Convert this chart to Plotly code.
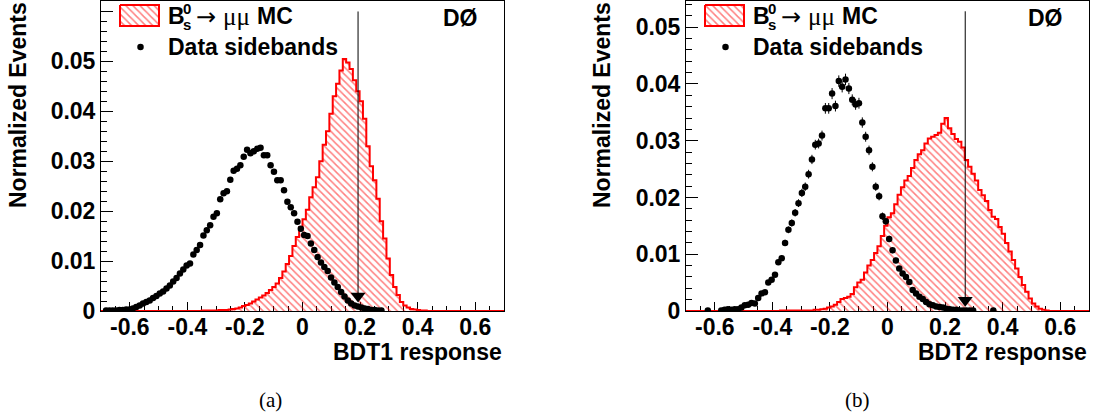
import numpy as np
import plotly.graph_objects as go

# ---------------- data ----------------
NBINS = 120
XMIN, XMAX = -0.7, 0.7
bin_edges = np.linspace(XMIN, XMAX, NBINS + 1)
bin_centers = 0.5 * (bin_edges[:-1] + bin_edges[1:])

# BDT1: MC signal histogram (bins 30..96, zero elsewhere)
mc1_first = 30
mc1_vals = [0.0001, 0.0001, 0.0001, 0.0001, 0.0001,
            0.0002, 0.0002, 0.0002, 0.0003, 0.0004, 0.0005, 0.0007, 0.0010, 0.0012, 0.0015,
            0.0019, 0.0023, 0.0027, 0.0031, 0.0036, 0.0042, 0.0048, 0.0055, 0.0066, 0.0079,
            0.0094, 0.0110, 0.0130, 0.0148, 0.0168, 0.0184, 0.0203, 0.0228, 0.0248, 0.0268,
            0.0300, 0.0333, 0.0360, 0.0395, 0.0430, 0.0455, 0.0482, 0.0505, 0.0498, 0.0485,
            0.0462, 0.0440, 0.0420, 0.0385, 0.0330, 0.0290, 0.0262, 0.0225, 0.0180, 0.0145,
            0.0105, 0.0072, 0.0048, 0.0032, 0.0018, 0.0011, 0.0007, 0.0004, 0.0003, 0.0002,
            0.0001, 0.0001]

# BDT1: data sidebands (bins 1..83)
data1_first = 1
data1_vals = [0.0001, 0.0001, 0.0001, 0.0001, 0.0002, 0.0002, 0.0003, 0.0003, 0.0005, 0.0008,
              0.0011, 0.0015, 0.0018, 0.0021, 0.0026, 0.0030, 0.0035, 0.0039, 0.0045, 0.0051,
              0.0059, 0.0066, 0.0075, 0.0083, 0.0091, 0.0095, 0.0113, 0.0122, 0.0132, 0.0151,
              0.0162, 0.0172, 0.0189, 0.0196, 0.0224, 0.0236, 0.0240, 0.0263, 0.0281, 0.0285,
              0.0292, 0.0309, 0.0323, 0.0316, 0.0320, 0.0325, 0.0327, 0.0312, 0.0312, 0.0292,
              0.0279, 0.0262, 0.0262, 0.0242, 0.0219, 0.0208, 0.0196, 0.0179, 0.0165, 0.0152,
              0.0150, 0.0135, 0.0122, 0.0108, 0.0097, 0.0088, 0.0080, 0.0067, 0.0057, 0.0048,
              0.0038, 0.0029, 0.0021, 0.0015, 0.0011, 0.0009, 0.0007, 0.0005, 0.0004, 0.0002,
              0.0002, 0.0001, 0.0001]

# BDT2: MC signal histogram (bins 28..107)
mc2_first = 28
mc2_vals = [0.0001, 0.0001, 0.0001, 0.0001, 0.0001, 0.0001, 0.0001, 0.0001,
            0.0001, 0.0001, 0.0002, 0.0002, 0.0003, 0.0004, 0.0006, 0.0008, 0.0011, 0.0016,
            0.0021, 0.0023, 0.0025, 0.0030, 0.0042, 0.0050, 0.0055, 0.0068, 0.0080, 0.0090,
            0.0102, 0.0114, 0.0132, 0.0150, 0.0165, 0.0172, 0.0188, 0.0205, 0.0218, 0.0230,
            0.0238, 0.0252, 0.0266, 0.0276, 0.0283, 0.0295, 0.0304, 0.0307, 0.0310, 0.0314,
            0.0330, 0.0340, 0.0322, 0.0312, 0.0303, 0.0298, 0.0288, 0.0266, 0.0254, 0.0242,
            0.0230, 0.0213, 0.0204, 0.0194, 0.0178, 0.0166, 0.0162, 0.0148, 0.0136, 0.0120,
            0.0105, 0.0090, 0.0075, 0.0060, 0.0046, 0.0034, 0.0022, 0.0013, 0.0008, 0.0004,
            0.0002, 0.0001]

# BDT2: data sidebands (bins 6..91, None = empty bin)
data2_first = 6
data2_vals = [0.0001, None, None, None,
              0.0001, 0.0002, 0.0003, 0.0002, 0.0003, 0.0003, 0.0006, 0.0010, 0.0011, 0.0014,
              0.0013, 0.0023, 0.0031, 0.0033, 0.0050, 0.0055, 0.0064, 0.0086, 0.0093, 0.0120,
              0.0143, 0.0155, 0.0173, 0.0190, 0.0208, 0.0219, 0.0241, 0.0267, 0.0293, 0.0295,
              0.0309, 0.0357, 0.0357, 0.0383, 0.0361, 0.0405, 0.0395, 0.0408, 0.0392, 0.0372,
              0.0364, 0.0366, 0.0332, 0.0307, 0.0283, 0.0254, 0.0219, 0.0202, 0.0167, 0.0158,
              0.0127, 0.0107, 0.0089, 0.0075, 0.0066, 0.0060, 0.0051, 0.0037, 0.0031, 0.0025,
              0.0021, 0.0016, 0.0012, 0.0010, 0.0008, 0.0007, 0.0006, 0.0004, 0.0003, 0.0002,
              0.0002, 0.0001, 0.0001, 0.0001, 0.0001, 0.0001, None, None, None, None, None,
              0.0001]

# statistical error scale (error = k*sqrt(value)) for each data sample
err_scale1 = 0.002
err_scale2 = 0.005

# selection cuts (arrows)
cut1, cut1_top, cut1_head = 0.193, 0.060, 0.0030
cut2, cut2_top, cut2_head = 0.270, 0.0528, 0.0019

x_tick_vals = [-0.6, -0.4, -0.2, 0.0, 0.2, 0.4, 0.6]
x_tick_text = ["-0.6", "-0.4", "-0.2", "0", "0.2", "0.4", "0.6"]
y1_tick_vals = [0, 0.01, 0.02, 0.03, 0.04, 0.05, 0.06]
y1_tick_text = ["0", "0.01", "0.02", "0.03", "0.04", "0.05", "0.06"]
y2_tick_vals = [0, 0.01, 0.02, 0.03, 0.04, 0.05]
y2_tick_text = ["0", "0.01", "0.02", "0.03", "0.04", "0.05"]
y1_range = [0, 0.0622]
y2_range = [0, 0.0547]
x_titles = ["BDT1 response", "BDT2 response"]
captions = ["(a)", "(b)"]


def full_hist(first, vals):
    arr = [0.0] * NBINS
    for k, v in enumerate(vals):
        arr[first + k] = v
    return arr


def full_points(first, vals):
    arr = [None] * NBINS
    for k, v in enumerate(vals):
        arr[first + k] = v
    return arr


mc1 = full_hist(mc1_first, mc1_vals)
mc2 = full_hist(mc2_first, mc2_vals)
data1 = full_points(data1_first, data1_vals)
data2 = full_points(data2_first, data2_vals)

# ---------------- figure ----------------
W, H = 1095, 417
FONT = "Liberation Sans"
RED = "#ff0000"
FS = 23


def px(x):
    return x / W


def py(y):
    return 1 - y / H


fig = go.Figure()

panels = [
    dict(xa="x", ya="y", mc=mc1, data=data1, k=err_scale1,
         cut=(cut1, cut1_top, cut1_head)),
    dict(xa="x2", ya="y2", mc=mc2, data=data2, k=err_scale2,
         cut=(cut2, cut2_top, cut2_head)),
]

PATTERN = dict(shape="\\", fgcolor=RED, bgcolor="rgba(255,255,255,0)", size=5, solidity=0.3)

for p in panels:
    step_x = list(bin_edges)
    step_y = list(p["mc"]) + [p["mc"][-1]]
    fig.add_trace(go.Scatter(
        x=step_x, y=step_y, mode="lines", line=dict(color=RED, width=2, shape="hv"),
        fill="tozeroy", fillcolor="rgba(0,0,0,0)", fillpattern=PATTERN,
        xaxis=p["xa"], yaxis=p["ya"], showlegend=False, hoverinfo="skip"))
    xs = [c for c, v in zip(bin_centers, p["data"]) if v is not None]
    ys = [v for v in p["data"] if v is not None]
    errs = [p["k"] * np.sqrt(v) for v in ys]
    fig.add_trace(go.Scatter(
        x=xs, y=ys, mode="markers",
        marker=dict(color="black", size=6.5, symbol="circle"),
        error_y=dict(type="data", array=errs, visible=True, color="black",
                     thickness=1, width=0),
        xaxis=p["xa"], yaxis=p["ya"], showlegend=False))
    c, top, head = p["cut"]
    fig.add_trace(go.Scatter(
        x=[c, c], y=[top, head], mode="lines", line=dict(color="black", width=1),
        xaxis=p["xa"], yaxis=p["ya"], showlegend=False, hoverinfo="skip"))
    fig.add_trace(go.Scatter(
        x=[c], y=[head], mode="markers",
        marker=dict(color="black", size=13, symbol="triangle-down"),
        xaxis=p["xa"], yaxis=p["ya"], showlegend=False, hoverinfo="skip"))

# legend swatches drawn on an overlay pixel axis
for ox in [0, 585]:
    bx0, bx1, by0, by1 = 120 + ox, 159 + ox, 5, 26
    fig.add_trace(go.Scatter(
        x=[bx0, bx1, bx1, bx0, bx0], y=[by0, by0, by1, by1, by0],
        mode="lines", line=dict(color=RED, width=2), fill="toself",
        fillcolor="rgba(0,0,0,0)", fillpattern=PATTERN,
        xaxis="x3", yaxis="y3", showlegend=False, hoverinfo="skip"))
    fig.add_trace(go.Scatter(
        x=[140.5 + ox], y=[47], mode="markers",
        marker=dict(color="black", size=6.5),
        xaxis="x3", yaxis="y3", showlegend=False, hoverinfo="skip"))

tickfont = dict(family=FONT, size=FS, color="black", weight="bold")


def xaxis_def(domain, anchor):
    return dict(domain=domain, anchor=anchor, range=[XMIN, XMAX], automargin=False,
                showline=True, mirror=True, linecolor="black", linewidth=1,
                ticks="inside", ticklen=9, tickcolor="black", ticklabelstandoff=-5,
                tickmode="array", tickvals=x_tick_vals, ticktext=x_tick_text,
                minor=dict(ticks="inside", ticklen=5, tick0=0, dtick=0.05, tickcolor="black"),
                showgrid=False, zeroline=False, tickfont=tickfont, layer="below traces")


def yaxis_def(domain, anchor, rng, vals, text):
    return dict(domain=domain, anchor=anchor, range=rng, automargin=False,
                showline=True, mirror=True, linecolor="black", linewidth=1,
                ticks="inside", ticklen=12, tickcolor="black",
                tickmode="array", tickvals=vals, ticktext=text,
                minor=dict(ticks="inside", ticklen=6, tick0=0, dtick=0.002, tickcolor="black"),
                showgrid=False, zeroline=False, tickfont=tickfont, layer="below traces")


ydom = [py(311), py(0.5)]
fig.update_layout(
    width=W, height=H, margin=dict(l=0, r=0, t=0, b=0),
    paper_bgcolor="white", plot_bgcolor="rgba(0,0,0,0)",
    font=dict(family=FONT, color="black"),
    xaxis=xaxis_def([px(101), px(504)], "y"),
    yaxis=yaxis_def(ydom, "x", y1_range, y1_tick_vals, y1_tick_text),
    xaxis2=xaxis_def([px(686), px(1089)], "y2"),
    yaxis2=yaxis_def(ydom, "x2", y2_range, y2_tick_vals, y2_tick_text),
    xaxis3=dict(domain=[0, 1], anchor="y3", range=[0, W], visible=False, fixedrange=True),
    yaxis3=dict(domain=[0, 1], anchor="x3", range=[H, 0], visible=False, fixedrange=True),
)

ann = []
bold = dict(family=FONT, size=FS, color="black", weight="bold")
small_bold = dict(family=FONT, size=15, color="black", weight="bold")
for ox, right, ycx, title, cap, capx in [(0, 504, 18, x_titles[0], captions[0], 270),
                                           (585, 1089, 602, x_titles[1], captions[1], 857)]:
    ann.append(dict(text=title, x=px(right), y=py(352), xref="paper", yref="paper",
                    xanchor="right", yanchor="middle", showarrow=False, font=bold))
    ann.append(dict(text="Normalized Events", x=px(ycx), y=py(0), xref="paper", yref="paper",
                    xanchor="center", yanchor="top", textangle=-90, showarrow=False, font=bold))
    ann.append(dict(text=cap, x=px(capx), y=py(400), xref="paper", yref="paper",
                    xanchor="center", yanchor="middle", showarrow=False,
                    font=dict(family="Liberation Serif", size=21, color="black")))
    ann.append(dict(text="DØ", x=px(right - 24), y=py(18), xref="paper", yref="paper",
                    xanchor="right", yanchor="middle", showarrow=False, font=bold))
    ann.append(dict(text="B", x=px(166 + ox), y=py(16), xref="paper", yref="paper",
                    xanchor="left", yanchor="middle", showarrow=False, font=bold))
    ann.append(dict(text="0", x=px(181 + ox), y=py(9), xref="paper", yref="paper",
                    xanchor="left", yanchor="middle", showarrow=False, font=small_bold))
    ann.append(dict(text="s", x=px(181 + ox), y=py(25), xref="paper", yref="paper",
                    xanchor="left", yanchor="middle", showarrow=False, font=small_bold))
    ann.append(dict(text="→", x=px(194 + ox), y=py(17), xref="paper", yref="paper",
                    xanchor="left", yanchor="middle", showarrow=False,
                    font=dict(family="DejaVu Sans", size=24, color="black")))
    ann.append(dict(text="μμ", x=px(221 + ox), y=py(17), xref="paper", yref="paper",
                    xanchor="left", yanchor="middle", showarrow=False,
                    font=dict(family="Liberation Serif", size=25, color="black")))
    ann.append(dict(text="MC", x=px(255 + ox), y=py(16), xref="paper", yref="paper",
                    xanchor="left", yanchor="middle", showarrow=False, font=bold))
    ann.append(dict(text="Data sidebands", x=px(166 + ox), y=py(47), xref="paper", yref="paper",
                    xanchor="left", yanchor="middle", showarrow=False, font=bold))

fig.update_layout(annotations=ann)
fig.write_html("out.html", config={"displayModeBar": False},
               post_script="document.body.style.margin='0';document.body.style.overflow='hidden';")
